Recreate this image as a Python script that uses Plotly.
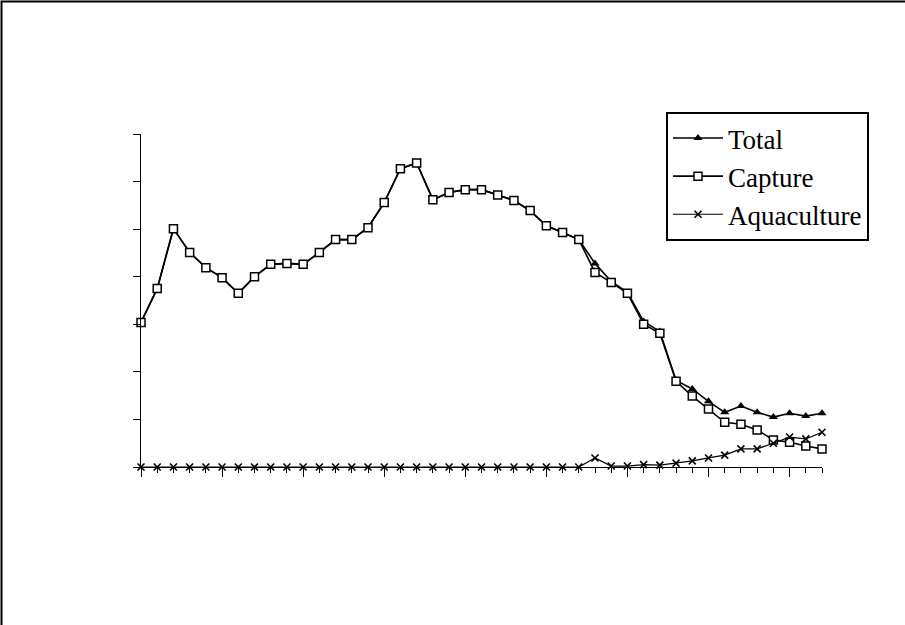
import plotly.graph_objects as go

years = list(range(1950, 1993))

total = [3.04, 3.75, 5.01, 4.51, 4.19, 3.98, 3.65, 4.00, 4.26, 4.28,
         4.26, 4.51, 4.78, 4.78, 5.03, 5.56, 6.27, 6.39, 5.62, 5.77,
         5.83, 5.83, 5.72, 5.60, 5.39, 5.07, 4.93, 4.78, 4.28, 3.90,
         3.67, 3.06, 2.85, 1.82, 1.64, 1.38, 1.15, 1.28, 1.15, 1.05,
         1.13, 1.07, 1.13]

capture = [3.04, 3.75, 5.01, 4.51, 4.19, 3.98, 3.65, 4.00, 4.26, 4.28,
           4.26, 4.51, 4.78, 4.78, 5.03, 5.56, 6.27, 6.39, 5.62, 5.77,
           5.83, 5.83, 5.72, 5.60, 5.39, 5.07, 4.93, 4.78, 4.09, 3.88,
           3.65, 3.00, 2.81, 1.80, 1.49, 1.22, 0.94, 0.90, 0.78, 0.57,
           0.52, 0.44, 0.38]

aquaculture = [0, 0, 0, 0, 0, 0, 0, 0, 0, 0,
               0, 0, 0, 0, 0, 0, 0, 0, 0, 0,
               0, 0, 0, 0, 0, 0, 0, 0, 0.19, 0.02,
               0.02, 0.05, 0.04, 0.08, 0.13, 0.19, 0.25, 0.38, 0.38, 0.50,
               0.63, 0.59, 0.73]

W, H = 905, 625
L, R, T, B = 141, 83, 134, 158
PW, PH = W - L - R, H - T - B

fig = go.Figure()
fig.add_trace(go.Scatter(
    x=years, y=total, name="Total", mode="lines+markers",
    line=dict(color="black", width=1.6),
    marker=dict(symbol="triangle-up", size=8, color="black"),
    cliponaxis=False))
fig.add_trace(go.Scatter(
    x=years, y=capture, name="Capture", mode="lines+markers",
    line=dict(color="black", width=1.6),
    marker=dict(symbol="square", size=8, color="white",
                line=dict(color="black", width=1.5)),
    cliponaxis=False))
fig.add_trace(go.Scatter(
    x=years, y=aquaculture, name="Aquaculture", mode="lines+markers",
    line=dict(color="black", width=1.2),
    marker=dict(symbol="x-thin", size=7, color="black",
                line=dict(color="black", width=1.6)),
    cliponaxis=False))

fig.update_layout(
    width=W, height=H,
    margin=dict(l=L, r=R, t=T, b=B, pad=0),
    paper_bgcolor="white", plot_bgcolor="white",
    font=dict(family="Liberation Serif", size=27, color="black"),
    showlegend=True,
    legend=dict(
        x=(666 - L) / PW, y=(467 - 112) / PH,
        xanchor="left", yanchor="top",
        bordercolor="black", borderwidth=2, bgcolor="white",
        font=dict(family="Liberation Serif", size=27, color="black"),
        tracegroupgap=0, itemwidth=50),
    xaxis=dict(
        range=[1950, 1992], showgrid=False, zeroline=False,
        showline=True, linecolor="black", linewidth=1.2,
        ticks="outside", tickcolor="black", ticklen=9, tickwidth=1,
        tick0=1950, dtick=5, showticklabels=False,
        minor=dict(dtick=1, tick0=1950, ticks="outside", ticklen=5,
                   tickcolor="black", tickwidth=1, showgrid=False)),
    yaxis=dict(
        range=[0, 7], showgrid=False, zeroline=False,
        showline=True, linecolor="black", linewidth=1.2,
        ticks="outside", tickcolor="black", ticklen=7, tickwidth=1,
        tick0=0, dtick=1, showticklabels=False),
    shapes=[dict(
        type="rect", xref="paper", yref="paper",
        x0=(1.5 - L) / PW, x1=(W + 20 - L) / PW,
        y0=(467 - (H + 20)) / PH, y1=(467 - 1.5) / PH,
        line=dict(color="black", width=2), fillcolor="rgba(0,0,0,0)",
        layer="below")],
)

fig.write_html(
    "out.html",
    config={"displayModeBar": False},
    post_script="document.body.style.margin='0';"
                "document.body.style.overflow='hidden';")
